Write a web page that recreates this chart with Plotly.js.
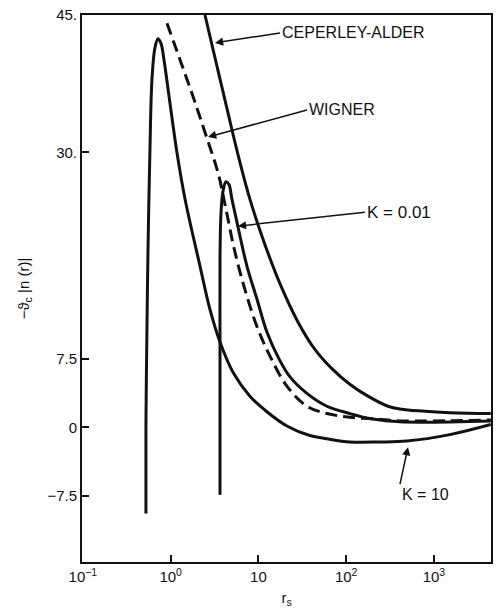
<!DOCTYPE html>
<html>
<head>
<meta charset="utf-8">
<script src="https://cdn.plot.ly/plotly-3.0.1.min.js"></script>
<style>html,body{margin:0;padding:0;background:#fff;}#chart{width:496px;height:613px;}</style>
</head>
<body>
<div id="chart"></div>
<script>
// Ceperley-Alder (solid)
const caX = [2.46, 3.28, 4.38, 5.84, 8.00, 11.6, 18.1, 28.2, 44.0, 68.7, 110, 177, 299, 409, 1517, 4446];
const caY = [45.0, 39.9, 34.8, 29.8, 24.9, 20.2, 15.4, 11.5, 8.5, 6.4, 4.7, 3.4, 2.3, 2.0, 1.6, 1.5];
// Wigner (dashed)
const wignerX = [0.908, 1.28, 1.80, 2.46, 3.46, 4.27, 5.26, 6.84, 9.62, 13.5, 21.1, 35.7, 60.3, 110, 224, 409, 4446];
const wignerY = [44.1, 40.1, 36.1, 32.2, 27.8, 23.8, 19.6, 15.4, 11.0, 7.8, 4.5, 2.3, 1.5, 1.1, 0.9, 0.7, 0.8];
// K = 0.01 (solid)
const k001X = [3.65, 3.65, 3.65, 3.65, 3.74, 3.94, 4.27, 4.62, 4.99, 5.84, 7.40, 9.62, 12.5, 17.1, 22.9, 35.7, 60.3, 110, 201, 409, 4446];
const k001Y = [-7.35, 0.9, 9.6, 18.3, 23.2, 25.7, 26.8, 26.5, 24.9, 21.9, 17.6, 14.0, 10.4, 7.5, 5.5, 3.7, 2.3, 1.5, 0.9, 0.6, 0.7];
// K = 10 (solid)
const k10X = [0.523, 0.523, 0.537, 0.552, 0.581, 0.612, 0.662, 0.717, 0.776, 0.840, 0.982, 1.18, 1.46, 2.16, 2.80, 3.65, 5.13, 8.00, 12.5, 21.1, 38.6, 60.3, 110, 242, 492, 1517, 4446];
const k10Y = [-9.4, 0.05, 10.7, 19.4, 30.3, 37.9, 41.4, 42.4, 41.9, 40.1, 35.4, 30.0, 24.9, 17.6, 12.9, 9.3, 6.0, 3.4, 1.7, 0.15, -0.9, -1.25, -1.6, -1.6, -1.5, -0.8, 0.3];

const xTickVals = [0.1, 1, 10, 100, 1000];
const xTickText = ['10<sup>−1</sup>', '10<sup>0</sup>', '10', '10<sup>2</sup>', '10<sup>3</sup>'];
const yTickVals = [45, 30, 7.5, 0, -7.5];
const yTickText = ['45.', '30.', '7.5', '0', '−7.5'];

const lineStyle = {color: '#111', width: 3, shape: 'spline', smoothing: 1.0};
const traces = [
  {x: caX, y: caY, mode: 'lines', line: lineStyle, name: 'Ceperley-Alder'},
  {x: wignerX, y: wignerY, mode: 'lines', line: Object.assign({}, lineStyle, {dash: '12px,6px'}), name: 'Wigner'},
  {x: k001X, y: k001Y, mode: 'lines', line: lineStyle, name: 'K = 0.01'},
  {x: k10X, y: k10Y, mode: 'lines', line: lineStyle, name: 'K = 10'}
];

const fontFam = 'Liberation Sans, Arial, Helvetica, sans-serif';
function callout(text, xp, yp, ax, ay, size, xa, ya) {
  return {xref: 'paper', yref: 'paper', x: xp, y: yp, text: text, showarrow: true,
          ax: ax, ay: ay, xanchor: xa || 'left', yanchor: ya || 'middle',
          arrowhead: 2, arrowsize: 1.1, arrowwidth: 1.5, arrowcolor: '#111',
          font: {family: fontFam, size: size || 16, color: '#111'}};
}

const layout = {
  width: 496, height: 613,
  margin: {l: 82, r: 5, t: 15, b: 51},
  paper_bgcolor: '#fff', plot_bgcolor: '#fff',
  showlegend: false,
  font: {family: fontFam, size: 15, color: '#111'},
  xaxis: {
    type: 'log', range: [-1.01, 3.65],
    tickvals: xTickVals, ticktext: xTickText,
    ticks: 'inside', ticklen: 7, tickwidth: 2, tickcolor: '#111',
    showline: true, linewidth: 2, linecolor: '#111', mirror: true,
    showgrid: false, zeroline: false,
    tickfont: {size: 15, color: '#111'},
    title: {text: 'r<sub>s</sub>', font: {size: 15, color: '#111'}, standoff: 8}
  },
  yaxis: {
    range: [-14.7, 45],
    tickvals: yTickVals, ticktext: yTickText,
    ticks: 'inside', ticklen: 7, tickwidth: 2, tickcolor: '#111',
    showline: true, linewidth: 2, linecolor: '#111', mirror: true,
    showgrid: false, zeroline: false,
    tickfont: {size: 15, color: '#111'},
    title: {text: '−ϑ<sub>c</sub> |n (r)|', font: {size: 15, color: '#111'}, standoff: 14}
  },
  annotations: [
    callout('CEPERLEY-ALDER', 0.325, 0.949, 65, -10, 16),
    callout('WIGNER', 0.308, 0.777, 99, -27, 16),
    callout('K = 0.01', 0.381, 0.614, 127, -14, 17),
    callout('K = 10', 0.797, 0.210, -8, 37, 16, 'left', 'top')
  ]
};

Plotly.newPlot('chart', traces, layout, {staticPlot: true, displayModeBar: false});
</script>
</body>
</html>
